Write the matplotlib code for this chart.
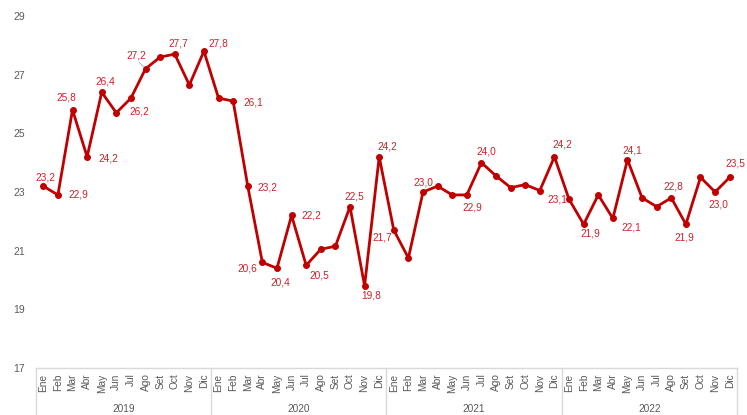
import matplotlib
matplotlib.use("Agg")
import matplotlib.pyplot as plt

plt.rcParams['font.family'] = ['Liberation Sans', 'DejaVu Sans']

meses = ["Ene", "Feb", "Mar", "Abr", "May", "Jun", "Jul", "Ago", "Set", "Oct", "Nov", "Dic"]
anios = ["2019", "2020", "2021", "2022"]

valores = [
    23.2, 22.9, 25.8, 24.2, 26.4, 25.7, 26.2, 27.2, 27.6, 27.7, 26.65, 27.8,   # 2019
    26.2, 26.1, 23.2, 20.6, 20.4, 22.2, 20.5, 21.05, 21.15, 22.5, 19.8, 24.2,  # 2020
    21.7, 20.75, 23.0, 23.2, 22.9, 22.9, 24.0, 23.55, 23.15, 23.25, 23.05, 24.2,  # 2021
    22.75, 21.9, 22.9, 22.1, 24.1, 22.8, 22.5, 22.8, 21.9, 23.5, 23.0, 23.5,   # 2022
]

# etiquetas visibles en el grafico (None = sin etiqueta)
etiquetas = [
    "23,2", "22,9", "25,8", "24,2", "26,4", None, "26,2", "27,2", None, "27,7", None, "27,8",
    None, "26,1", "23,2", "20,6", "20,4", "22,2", "20,5", None, None, "22,5", "19,8", "24,2",
    "21,7", None, "23,0", None, None, "22,9", "24,0", None, None, None, None, "24,2",
    "23,1", "21,9", None, "22,1", "24,1", None, None, "22,8", "21,9", None, "23,0", "23,5",
]

# desplazamiento de cada etiqueta en pixeles (dx, dy hacia abajo)
offsets = [
    (2, -9), (20, 0), (-6, -12), (21, 2), (4, -11), None, (8, 13), (-9, -13), None, (4, -11), None, (14, -8),
    None, (20, 1), (20, 1), (-15, 6), (3, 14), (20, 0), (13, 10), None, None, (4, -10), (7, 10), (8, -10),
    (-11, 7), None, (0, -10), None, None, (5, 13), (5, -11), None, None, None, None, (8, -12),
    (-12, 0), (7, 9), None, (18, 9), (5, -9), None, None, (2, -11), (-2, 13), None, (3, 12), (6, -14),
]

rojo = "#C00000"
gris = "#595959"
linea = "#D9D9D9"

fig = plt.figure(figsize=(7.47, 4.15), dpi=100)
ax = fig.add_axes([36 / 747, 1 - 368 / 415, 701 / 747, 352 / 415])

x = list(range(len(valores)))
ax.plot(x, valores, color=rojo, lw=2.0, marker="o", ms=4, zorder=3)

for i, (v, t, o) in enumerate(zip(valores, etiquetas, offsets)):
    if t is None:
        continue
    ax.annotate(t, (i, v), xytext=(o[0] * 0.72, -o[1] * 0.72), textcoords="offset points",
                ha="center", va="center", fontsize=7.3, color="#D0202A", zorder=4)

# linea guia de la etiqueta 27,2
ax.annotate("", xy=(7, valores[7]), xytext=(-6, 6), textcoords="offset points",
            arrowprops=dict(arrowstyle="-", color="#A6A6A6", lw=0.6))

ax.set_ylim(17, 29)
ax.set_yticks(range(17, 30, 2))
ax.set_xlim(-0.5, len(valores) - 0.5)
ax.set_xticks(x)
ax.set_xticklabels(meses * len(anios), rotation=90, fontsize=7.3, color=gris)
ax.tick_params(axis="x", length=0, pad=4)
ax.tick_params(axis="y", length=0, pad=8, labelsize=7.5, labelcolor=gris)

for s in ["top", "right", "left"]:
    ax.spines[s].set_visible(False)
ax.spines["bottom"].set_color(linea)
ax.spines["bottom"].set_linewidth(1)

# tabla de categorias (anios)
trans = ax.get_xaxis_transform()
fondo = -(415 - 368) / 352
for k in range(len(anios) + 1):
    xs = k * 12 - 0.5
    ax.plot([xs, xs], [0, fondo], color=linea, lw=1, transform=trans, clip_on=False)
for k, a in enumerate(anios):
    ax.text(k * 12 + 5.5, -(409 - 368) / 352, a, transform=trans, ha="center", va="center",
            fontsize=7.3, color=gris)

fig.savefig("out.png", dpi=100)
